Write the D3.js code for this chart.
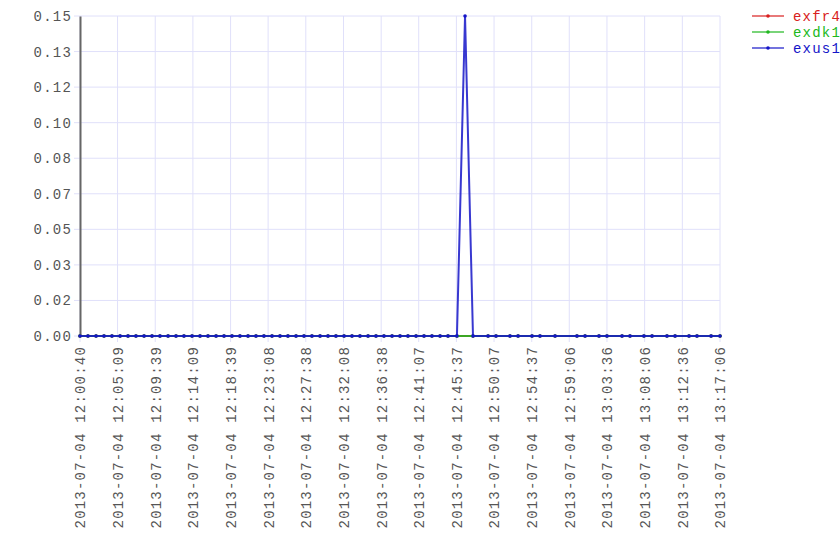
<!DOCTYPE html>
<html>
<head>
<meta charset="utf-8">
<script src="https://cdn.jsdelivr.net/npm/d3@7"></script>
<style>
  body { margin: 0; background: #fff; }
  svg { display: block; }
  text { font-family: "Liberation Mono", "DejaVu Sans Mono", monospace; font-size: 14px; letter-spacing: 1.2px; fill: #555; }
</style>
</head>
<body>
<script>
const width = 840;
const height = 560;

// sample timestamps (irregular)
const times = [
    '2013-07-04 12:00:40', '2013-07-04 12:01:37', '2013-07-04 12:02:35', '2013-07-04 12:03:32', '2013-07-04 12:04:29',
    '2013-07-04 12:05:27', '2013-07-04 12:06:24', '2013-07-04 12:07:21', '2013-07-04 12:08:19', '2013-07-04 12:09:16',
    '2013-07-04 12:10:13', '2013-07-04 12:11:11', '2013-07-04 12:12:08', '2013-07-04 12:13:05', '2013-07-04 12:14:03',
    '2013-07-04 12:15:00', '2013-07-04 12:15:57', '2013-07-04 12:16:55', '2013-07-04 12:17:52', '2013-07-04 12:18:49',
    '2013-07-04 12:19:46', '2013-07-04 12:20:44', '2013-07-04 12:21:41', '2013-07-04 12:22:38', '2013-07-04 12:23:36',
    '2013-07-04 12:24:33', '2013-07-04 12:25:30', '2013-07-04 12:26:28', '2013-07-04 12:27:25', '2013-07-04 12:28:22',
    '2013-07-04 12:29:20', '2013-07-04 12:30:17', '2013-07-04 12:31:14', '2013-07-04 12:32:12', '2013-07-04 12:33:09',
    '2013-07-04 12:34:06', '2013-07-04 12:35:04', '2013-07-04 12:36:01', '2013-07-04 12:36:58', '2013-07-04 12:37:56',
    '2013-07-04 12:38:53', '2013-07-04 12:39:50', '2013-07-04 12:40:48', '2013-07-04 12:41:45', '2013-07-04 12:42:42',
    '2013-07-04 12:43:40', '2013-07-04 12:44:37', '2013-07-04 12:45:41', '2013-07-04 12:46:39', '2013-07-04 12:47:36',
    '2013-07-04 12:49:24', '2013-07-04 12:50:21', '2013-07-04 12:52:01', '2013-07-04 12:52:59', '2013-07-04 12:54:39',
    '2013-07-04 12:55:36', '2013-07-04 12:57:24', '2013-07-04 13:00:01', '2013-07-04 13:00:59', '2013-07-04 13:02:39',
    '2013-07-04 13:03:36', '2013-07-04 13:05:24', '2013-07-04 13:06:21', '2013-07-04 13:08:01', '2013-07-04 13:08:59',
    '2013-07-04 13:10:46', '2013-07-04 13:11:44', '2013-07-04 13:13:24', '2013-07-04 13:14:21', '2013-07-04 13:16:02',
    '2013-07-04 13:17:06'
];

// null = no sample at that time
const exfr4 = [
    0, 0, 0, 0, 0, 0, 0, 0, 0, 0,
    0, 0, 0, 0, 0, 0, 0, 0, 0, 0,
    0, 0, 0, 0, 0, 0, 0, 0, 0, 0,
    0, 0, 0, 0, 0, 0, 0, 0, 0, 0,
    0, 0, 0, 0, 0, 0, 0, 0, null, 0,
    0, 0, 0, 0, 0, 0, 0, 0, 0, 0,
    0, 0, 0, 0, 0, 0, 0, 0, 0, 0,
    0
];
const exdk1 = [
    0, 0, 0, 0, 0, 0, 0, 0, 0, 0,
    0, 0, 0, 0, 0, 0, 0, 0, 0, 0,
    0, 0, 0, 0, 0, 0, 0, 0, 0, 0,
    0, 0, 0, 0, 0, 0, 0, 0, 0, 0,
    0, 0, 0, 0, 0, 0, 0, 0, null, 0,
    0, 0, 0, 0, 0, 0, 0, 0, 0, 0,
    0, 0, 0, 0, 0, 0, 0, 0, 0, 0,
    0
];
const exus1 = [
    0, 0, 0, 0, 0, 0, 0, 0, 0, 0,
    0, 0, 0, 0, 0, 0, 0, 0, 0, 0,
    0, 0, 0, 0, 0, 0, 0, 0, 0, 0,
    0, 0, 0, 0, 0, 0, 0, 0, 0, 0,
    0, 0, 0, 0, 0, 0, 0, 0, 0.15, 0,
    0, 0, 0, 0, 0, 0, 0, 0, 0, 0,
    0, 0, 0, 0, 0, 0, 0, 0, 0, 0,
    0
];

const seriesNames = ['exfr4', 'exdk1', 'exus1'];
const seriesColors = ['#d82020', '#20b820', '#1515c8'];

const xTickLabels = [
    '2013-07-04 12:00:40', '2013-07-04 12:05:09', '2013-07-04 12:09:39', '2013-07-04 12:14:09',
    '2013-07-04 12:18:39', '2013-07-04 12:23:08', '2013-07-04 12:27:38', '2013-07-04 12:32:08',
    '2013-07-04 12:36:38', '2013-07-04 12:41:07', '2013-07-04 12:45:37', '2013-07-04 12:50:07',
    '2013-07-04 12:54:37', '2013-07-04 12:59:06', '2013-07-04 13:03:36', '2013-07-04 13:08:06',
    '2013-07-04 13:12:36', '2013-07-04 13:17:06'
];
const yTickLabels = ['0.00', '0.02', '0.03', '0.05', '0.07', '0.08', '0.10', '0.12', '0.13', '0.15'];
const yMax = 0.15;

let plotMargins = { top: 16, left: 80, right: 120, bottom: 224 };
let plotWidth = width - plotMargins.left - plotMargins.right;
let plotHeight = height - plotMargins.top - plotMargins.bottom;

const parseTime = d3.timeParse('%Y-%m-%d %H:%M:%S');
const fmtTime = d3.timeFormat('%Y-%m-%d %H:%M:%S');
const dates = times.map(parseTime);

let svg = d3.select('body')
    .append('svg')
    .attr('width', width)
    .attr('height', height);

let plotGroup = svg.append('g')
    .attr('transform', `translate(${plotMargins.left}, ${plotMargins.top})`);

let xScale = d3.scaleTime()
    .domain(d3.extent(dates))
    .range([0, plotWidth]);
let yScale = d3.scaleLinear()
    .domain([0, yMax])
    .range([plotHeight, 0]);

let xTicks = xTickLabels.map(parseTime);
let yTicks = yTickLabels.map((d, i) => yMax * i / (yTickLabels.length - 1));

// grid
let grid = plotGroup.append('g').classed('grid', true);
grid.selectAll('.gx')
    .data(xTicks)
    .enter().append('line')
    .attr('x1', d => xScale(d)).attr('x2', d => xScale(d))
    .attr('y1', 0).attr('y2', plotHeight + 6)
    .style('stroke', '#e0e0fa');
grid.selectAll('.gy')
    .data(yTicks)
    .enter().append('line')
    .attr('x1', -6).attr('x2', plotWidth)
    .attr('y1', d => yScale(d)).attr('y2', d => yScale(d))
    .style('stroke', '#e0e0fa');

// axes
let yAxis = d3.axisLeft(yScale)
    .tickValues(yTicks)
    .tickSize(0)
    .tickPadding(8)
    .tickFormat((d, i) => yTickLabels[i]);
let yAxisGroup = plotGroup.append('g').call(yAxis);
yAxisGroup.attr('font-family', null).attr('font-size', null);
yAxisGroup.select('.domain').style('stroke', '#666').style('stroke-width', 2);
yAxisGroup.selectAll('text').attr('fill', '#555');

let xAxis = d3.axisBottom(xScale)
    .tickValues(xTicks)
    .tickSize(0)
    .tickFormat(fmtTime);
let xAxisGroup = plotGroup.append('g')
    .attr('transform', `translate(0, ${plotHeight})`)
    .call(xAxis);
xAxisGroup.attr('font-family', null).attr('font-size', null);
xAxisGroup.select('.domain').remove();
xAxisGroup.selectAll('text')
    .attr('fill', '#555')
    .attr('text-anchor', 'end')
    .attr('transform', 'rotate(-90)')
    .attr('x', -10)
    .attr('y', 0)
    .attr('dy', '0.35em');

// series
const allSeries = [exfr4, exdk1, exus1].map((vals, k) => ({
    name: seriesNames[k],
    color: seriesColors[k],
    points: vals.map((v, i) => ({ date: dates[i], value: v })).filter(p => p.value !== null)
}));

let line = d3.line()
    .x(d => xScale(d.date))
    .y(d => yScale(d.value));

let seriesGroups = plotGroup.selectAll('.series')
    .data(allSeries)
    .enter().append('g')
    .classed('series', true);

seriesGroups.append('path')
    .attr('d', d => line(d.points))
    .style('fill', 'none')
    .style('stroke', d => d.color)
    .style('stroke-opacity', 0.85)
    .style('stroke-width', 2);

seriesGroups.selectAll('circle')
    .data(d => d.points.map(p => ({ ...p, color: d.color })))
    .enter().append('circle')
    .attr('cx', d => xScale(d.date))
    .attr('cy', d => yScale(d.value))
    .attr('r', 1.8)
    .style('fill', d => d.color);

// legend
let legend = svg.append('g')
    .attr('transform', 'translate(752, 16)');
let legendItems = legend.selectAll('.item')
    .data(allSeries)
    .enter().append('g')
    .attr('transform', (d, i) => `translate(0, ${i * 16})`);
legendItems.append('line')
    .attr('x1', 0).attr('x2', 32)
    .style('stroke', d => d.color)
    .style('stroke-opacity', 0.6)
    .style('stroke-width', 2);
legendItems.append('circle')
    .attr('cx', 16).attr('r', 1.8)
    .style('fill', d => d.color);
legendItems.append('text')
    .attr('x', 41)
    .attr('dy', '0.35em')
    .style('fill', d => d.color)
    .text(d => d.name);
</script>
</body>
</html>
